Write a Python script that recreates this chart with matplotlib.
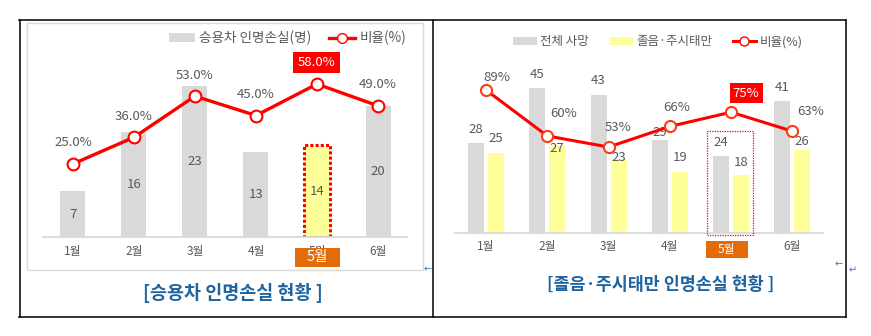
import matplotlib
matplotlib.use('Agg')
import matplotlib.pyplot as plt
from matplotlib.patches import Rectangle
from matplotlib.lines import Line2D
from matplotlib import transforms
import numpy as np

plt.rcParams['font.family'] = ['Noto Sans CJK KR', 'DejaVu Sans']

# 월별 데이터
months = ['1월', '2월', '3월', '4월', '5월', '6월']
car_loss = [7, 16, 23, 13, 14, 20]            # 승용차 인명손실(명)
car_ratio = [25.0, 36.0, 53.0, 45.0, 58.0, 49.0]  # 비율(%)
total_deaths = [28, 45, 43, 29, 24, 41]       # 전체 사망
drowsy_deaths = [25, 27, 23, 19, 18, 26]      # 졸음·주시태만
drowsy_ratio = [89, 60, 53, 66, 75, 63]       # 비율(%)
hl = 4  # 강조할 달 (5월)

# label offsets in pixels
gray_lab_dy = [14, 14, 14, 7, 13, 14]
yel_lab_dy = [14, -2, 2, 14, 13, 8]
pct_dx = [11, 16, 10, 7, 15, 18]
pct_dy = [13, 22, 20, 19, 19, 20]

W, H = 871, 336
GRAY = '#D9D9D9'
YELLOW = '#FFFF99'
RED = '#FF0000'
TXT = '#595959'
ORANGE = '#E36C09'
TITLE = '#1F64A0'

fig = plt.figure(figsize=(W / 100, H / 100), dpi=100)


def fx(x):
    return x / W


def fy(y):
    return 1 - y / H


def px_axes(l, t, r, b):
    return fig.add_axes([fx(l), fy(b), (r - l) / W, (b - t) / H])


def px_at(ax, x, y):
    # pixel units anchored at a data point
    return (transforms.Affine2D().scale(1 / fig.dpi) + fig.dpi_scale_trans
            + transforms.ScaledTranslation(x, y, ax.transData))


def boxed(ax, x, y, text, dx, dy, w, h, color, size):
    tr = px_at(ax, x, y)
    ax.add_patch(Rectangle((dx - w / 2, dy - h / 2), w, h, transform=tr,
                           fc=color, ec='none', clip_on=False, zorder=6))
    ax.text(dx, dy, text, transform=tr, ha='center', va='center',
            color='white', size=size, clip_on=False, zorder=7)


def style(ax, ax2, pad, labels):
    for s in ax.spines.values():
        s.set_visible(False)
    for s in ax2.spines.values():
        s.set_visible(False)
    ax.spines['bottom'].set_visible(True)
    ax.spines['bottom'].set_color(GRAY)
    ax.spines['bottom'].set_linewidth(1.3)
    ax.set_yticks([])
    ax2.set_yticks([])
    ax.set_xticks(np.arange(len(labels)))
    ax.set_xticklabels(labels)
    ax.tick_params(axis='x', length=0, pad=pad, colors=TXT, labelsize=8.5)


x = np.arange(len(months))

# ---- 왼쪽: 승용차 인명손실 ----
ax = px_axes(43, 40, 407, 237)
ax.set_xlim(-0.49, 5.475)
ax.set_ylim(0, 30)
colors = [YELLOW if i == hl else GRAY for i in x]
bars = ax.bar(x, car_loss, width=0.41, color=colors, zorder=2)
bars[hl].set_edgecolor(RED)
bars[hl].set_linestyle((0, (1, 0.7)))
bars[hl].set_linewidth(2.2)
for i, v in enumerate(car_loss):
    ax.text(i, v / 2, str(v), ha='center', va='center', color=TXT, size=9.5, zorder=3)

ax2 = ax.twinx()
ax2.set_ylim(-5.2, 76.2)
ax2.plot(x, car_ratio, color=RED, lw=2.4, marker='o', ms=8.5,
         mfc='white', mec=RED, mew=1.5, zorder=4)
for i, v in enumerate(car_ratio):
    if i == hl:
        boxed(ax2, i, v, f'{v:.1f}%', 0, 21.5, 47, 21, RED, 9.5)
    else:
        ax2.annotate(f'{v:.1f}%', (i, v), xytext=(0, 21), textcoords='offset pixels',
                     ha='center', va='center', color=TXT, size=9.5)
style(ax, ax2, 5.5, months)
boxed(ax, hl, 0, months[hl], 0.5, -20.5, 45, 19, ORANGE, 10.5)

fig.legend([Rectangle((0, 0), 1, 1, fc=GRAY),
            Line2D([], [], color=RED, lw=2.4, marker='o', ms=7, mfc='white', mec=RED)],
           ['승용차 인명손실(명)', '비율(%)'],
           loc='center right', bbox_to_anchor=(fx(406), fy(38)), ncol=2,
           frameon=False, fontsize=9.8, handlelength=1.9, handleheight=0.55,
           handletextpad=0.3, columnspacing=1.3, borderpad=0, borderaxespad=0,
           labelcolor=TXT)

# ---- 오른쪽: 졸음·주시태만 ----
bx = px_axes(455, 40, 823, 233)
bx.set_xlim(-0.506, 5.5)
bx.set_ylim(0, 60.1)
off, bw = 0.163, 0.26
bx.bar(x - off, total_deaths, width=bw, color=GRAY, zorder=2)
bx.bar(x + off, drowsy_deaths, width=bw, color=YELLOW, zorder=2)
for i in x:
    bx.annotate(str(total_deaths[i]), (i - off, total_deaths[i]), xytext=(0, gray_lab_dy[i]),
                textcoords='offset pixels', ha='center', va='center', color=TXT, size=9.5)
    bx.annotate(str(drowsy_deaths[i]), (i + off, drowsy_deaths[i]), xytext=(0, yel_lab_dy[i]),
                textcoords='offset pixels', ha='center', va='center', color=TXT, size=9.5)
bx.add_patch(Rectangle((hl - 0.39, -0.6), 0.75, 32.4, fill=False, ec=RED,
                       lw=0.9, ls=(0, (1, 1)), clip_on=False, zorder=3))

bx2 = bx.twinx()
bx2.set_ylim(-1.3, 120.6)
bx2.plot(x, drowsy_ratio, color=RED, lw=2.2, marker='o', ms=8,
         mfc='white', mec='#FF3A10', mew=1.5, zorder=4)
for i, v in enumerate(drowsy_ratio):
    if i == hl:
        boxed(bx2, i, v, f'{v}%', pct_dx[i], pct_dy[i], 33, 20, RED, 9.5)
    else:
        bx2.annotate(f'{v}%', (i, v), xytext=(pct_dx[i], pct_dy[i]), textcoords='offset pixels',
                     ha='center', va='center', color=TXT, size=9.5)
# 강조 달의 눈금 글자는 주황 상자가 대신함
style(bx, bx2, 4.8, [m if i != hl else '' for i, m in enumerate(months)])
boxed(bx, hl, 0, months[hl], -4.5, -16.5, 42, 17, ORANGE, 8.5)

fig.legend([Rectangle((0, 0), 1, 1, fc=GRAY), Rectangle((0, 0), 1, 1, fc=YELLOW),
            Line2D([], [], color=RED, lw=2.2, marker='o', ms=6.5, mfc='white', mec=RED)],
           ['전체 사망', '졸음·주시태만', '비율(%)'],
           loc='center right', bbox_to_anchor=(fx(803), fy(42)), ncol=3,
           frameon=False, fontsize=9, handlelength=1.9, handleheight=0.55,
           handletextpad=0.3, columnspacing=1.6, borderpad=0, borderaxespad=0,
           labelcolor=TXT)

# ---- 제목 ----
fig.text(fx(233), fy(293), '[승용차 인명손실 현황 ]', ha='center', va='center',
         size=13.3, weight='bold', color=TITLE)
fig.text(fx(661), fy(285), '[졸음·주시태만 인명손실 현황 ]', ha='center', va='center',
         size=12.5, weight='bold', color=TITLE)

# ---- 표 테두리 ----
fig.add_artist(Rectangle((fx(27), fy(270)), (423 - 27) / W, (270 - 23) / H,
                         transform=fig.transFigure, fill=False, ec='#DADADA', lw=1))
for (x0, y0, x1, y1) in [(19, 19.5, 846, 19.5), (19, 317, 846, 317),
                         (19.5, 19.5, 19.5, 317), (432.5, 19.5, 432.5, 317),
                         (846, 19.5, 846, 317)]:
    fig.add_artist(Line2D([fx(x0), fx(x1)], [fy(y0), fy(y1)], transform=fig.transFigure,
                          color='black', lw=1.1))

# 문단 기호
for (tx, ty, s) in [(428, 269, '←'), (839, 264, '←'), (853, 270, '↵')]:
    fig.text(fx(tx), fy(ty), s, ha='center', va='center', color='#4472C4',
             size=7, family='DejaVu Sans')

fig.savefig('out.png', dpi=100)
